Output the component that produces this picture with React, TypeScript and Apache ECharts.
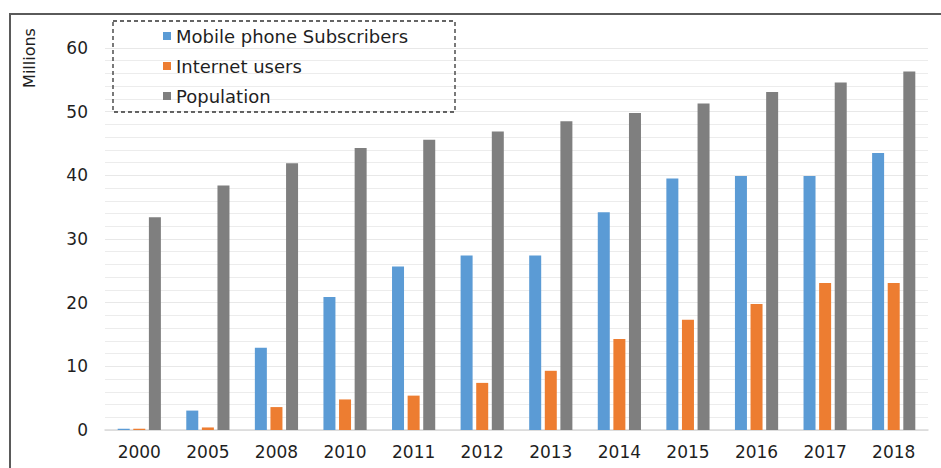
import React, { useEffect, useRef } from "react";
import * as echarts from "echarts";

const categories = ["2000", "2005", "2008", "2010", "2011", "2012", "2013", "2014", "2015", "2016", "2017", "2018"];
const mobileSubscribers = [0.2, 3.05, 12.9, 20.9, 25.7, 27.4, 27.4, 34.2, 39.5, 39.9, 39.9, 43.5];
const internetUsers = [0.2, 0.4, 3.6, 4.8, 5.4, 7.4, 9.3, 14.3, 17.3, 19.8, 23.1, 23.1];
const population = [33.4, 38.4, 41.9, 44.3, 45.6, 46.9, 48.5, 49.8, 51.3, 53.1, 54.6, 56.3];

const FONT = "DejaVu Sans";

export default function App() {
  const ref = useRef<HTMLDivElement>(null);
  useEffect(() => {
    document.body.style.margin = "0";
    const chart = echarts.init(ref.current!, null, { renderer: "svg" });
    const bar = (name: string, data: number[], color: string) => ({
      name,
      type: "bar",
      data,
      barWidth: 12,
      barGap: "30%",
      itemStyle: { color },
    });
    chart.setOption({
      animation: false,
      backgroundColor: "#ffffff",
      textStyle: { fontFamily: FONT },
      grid: { left: 105, right: 13, top: 48, bottom: 38 },
      legend: {
        orient: "vertical",
        left: 163,
        top: 26,
        padding: 0,
        itemWidth: 8,
        itemHeight: 8,
        itemGap: 10,
        icon: "rect",
        textStyle: { fontFamily: FONT, fontSize: 18, color: "#1f1f1f", lineHeight: 20 },
        data: ["Mobile phone Subscribers", "Internet users", "Population"],
      },
      xAxis: {
        type: "category",
        data: categories,
        axisTick: { show: false },
        axisLine: { lineStyle: { color: "#d9d9d9", width: 1.5 } },
        axisLabel: { fontFamily: FONT, fontSize: 17, color: "#1f1f1f", margin: 13 },
      },
      yAxis: {
        type: "value",
        min: 0,
        max: 60,
        interval: 10,
        axisLine: { show: false },
        axisTick: { show: false },
        axisLabel: { fontFamily: FONT, fontSize: 17, color: "#1f1f1f", margin: 17 },
        splitLine: { lineStyle: { color: "#e8e8e8" } },
        minorTick: { show: false, splitNumber: 5 },
        minorSplitLine: { show: true, lineStyle: { color: "#ececec" } },
      },
      graphic: [
        {
          type: "rect",
          shape: { x: 10, y: 14, width: 1000, height: 1000 },
          style: { fill: "none", stroke: "#5a5a5a", lineWidth: 2 },
          z: 100,
        },
        {
          type: "rect",
          shape: { x: 113, y: 21, width: 342, height: 91 },
          style: { fill: "none", stroke: "#333333", lineWidth: 1.3, lineDash: [4, 3] },
          z: 100,
        },
        {
          type: "text",
          x: 29,
          y: 58,
          rotation: Math.PI / 2,
          style: {
            text: "Millions",
            fontFamily: FONT,
            fontSize: 16,
            fill: "#1f1f1f",
            align: "center",
            verticalAlign: "middle",
          },
          z: 100,
        },
      ],
      series: [
        bar("Mobile phone Subscribers", mobileSubscribers, "#5B9BD5"),
        bar("Internet users", internetUsers, "#ED7D31"),
        bar("Population", population, "#7F7F7F"),
      ],
    });
    return () => chart.dispose();
  }, []);
  return <div ref={ref} style={{ width: 941, height: 468 }} />;
}
